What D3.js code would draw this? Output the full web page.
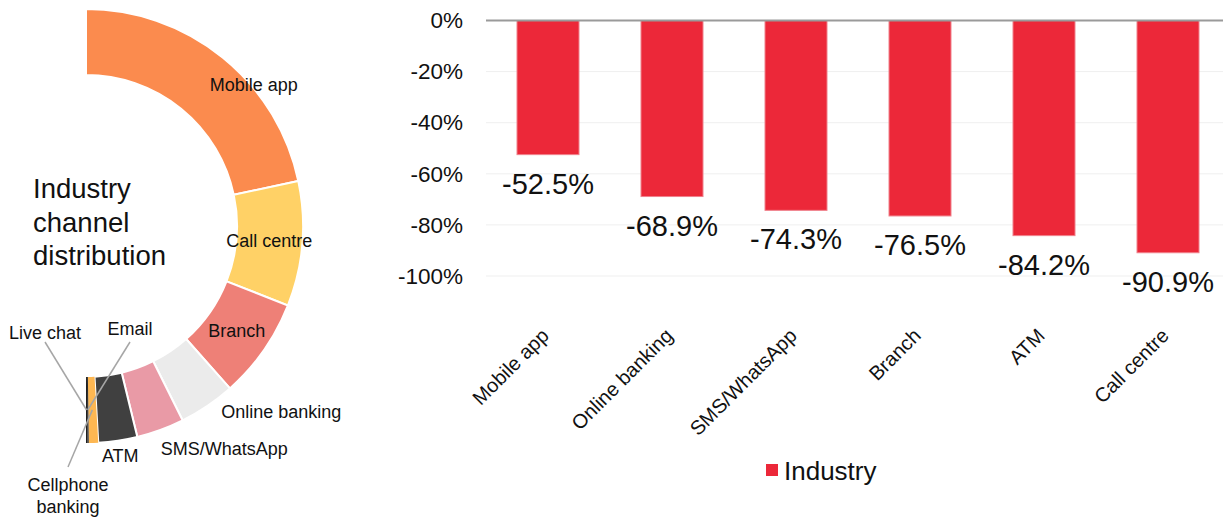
<!DOCTYPE html>
<html>
<head>
<meta charset="utf-8">
<script src="https://cdn.jsdelivr.net/npm/d3@7"></script>
<style>
  body { margin: 0; background: #fff; }
  svg { display: block; font-family: "Liberation Sans", Arial, sans-serif; }
</style>
</head>
<body>
<svg id="chart" width="1223" height="519"></svg>
<script>
// donut data (share of channel use, %)
var channels = ["Mobile app", "Call centre", "Branch", "Online banking", "SMS/WhatsApp", "ATM", "Cellphone banking", "Email", "Live chat"];
var shares = [43.4, 18.6, 15.0, 8.4, 7.1, 5.8, 1.4, 0.2, 0.2];
var sliceColors = ["#FB8B4E", "#FFD166", "#EE8077", "#EBEBEB", "#E99AA6", "#404040", "#FDB752", "#2b2b2b", "#1f1f1f"];

// bar data (change, %)
var categories = ["Mobile app", "Online banking", "SMS/WhatsApp", "Branch", "ATM", "Call centre"];
var change = [-52.5, -68.9, -74.3, -76.5, -84.2, -90.9];
var yTicks = [0, -20, -40, -60, -80, -100];
var seriesName = "Industry";

var svg = d3.select("#chart");

// ---------- half donut ----------
var cx = 86, cy = 226, rIn = 151, rOut = 217;

var pie = d3.pie().sort(null).startAngle(0).endAngle(Math.PI);
var arc = d3.arc().innerRadius(rIn).outerRadius(rOut);
var slices = pie(shares);

var donut = svg.append("g").attr("transform", "translate(" + cx + "," + cy + ")");

donut.selectAll(".slice")
    .data(slices)
  .enter().append("path")
    .attr("class", "slice")
    .attr("d", arc)
    .attr("fill", function(d, i) { return sliceColors[i]; })
    .attr("stroke", "#fff")
    .attr("stroke-width", function(d) { return d.data > 2 ? 2 : 0; });

function polar(a, r) { return [r * Math.sin(a), -r * Math.cos(a)]; }

// label placement: radius + angle shift (deg) for the big slices
var labelStyle = {
  "Mobile app":     { r: 219, da: 11,  anchor: "middle" },
  "Call centre":    { r: 184, da: 0,   anchor: "middle" },
  "Branch":         { r: 184, da: 0,   anchor: "middle" },
  "Online banking": { r: 230, da: -2,  anchor: "start" },
  "SMS/WhatsApp":   { r: 235, da: 1.5, anchor: "start" },
  "ATM":            { r: 233, da: 0,   anchor: "middle" }
};
// tiny slices get callouts
var callouts = {
  "Cellphone banking": { x: -18, y: 259, lx: -18, ly: 241, lines: ["Cellphone", "banking"] },
  "Email":             { x: 44,  y: 103, lx: 44,  ly: 116, lines: ["Email"] },
  "Live chat":         { x: -41, y: 107, lx: -41, ly: 116, lines: ["Live chat"] }
};

slices.forEach(function(d, i) {
  var name = channels[i];
  var mid = (d.startAngle + d.endAngle) / 2;
  if (labelStyle[name]) {
    var s = labelStyle[name];
    var p = polar(mid + s.da * Math.PI / 180, s.r);
    donut.append("text")
        .attr("x", p[0]).attr("y", p[1])
        .attr("text-anchor", s.anchor)
        .attr("dominant-baseline", "central")
        .attr("font-size", 18)
        .attr("fill", "#111")
        .text(name);
  } else {
    var c = callouts[name];
    var end = polar(mid, (rIn + rOut) / 2);
    donut.append("line")
        .attr("x1", c.lx).attr("y1", c.ly)
        .attr("x2", end[0]).attr("y2", end[1])
        .attr("stroke", "#a6a6a6")
        .attr("stroke-width", 1.5);
    var t = donut.append("text")
        .attr("x", c.x).attr("y", c.y)
        .attr("text-anchor", "middle")
        .attr("dominant-baseline", "central")
        .attr("font-size", 18)
        .attr("fill", "#111");
    c.lines.forEach(function(l, k) {
      t.append("tspan").attr("x", c.x).attr("dy", k == 0 ? 0 : 22).text(l);
    });
  }
});

// title
var title = svg.append("text")
    .attr("x", 33).attr("y", 198)
    .attr("font-size", 27.5)
    .attr("fill", "#111");
["Industry", "channel", "distribution"].forEach(function(l, k) {
  title.append("tspan").attr("x", 33).attr("dy", k == 0 ? 0 : 33.5).text(l);
});

// ---------- bar chart ----------
var x = d3.scaleBand()
    .domain(categories)
    .range([486, 1230])
    .paddingInner(0.5)
    .paddingOuter(0.25);

var y = d3.scaleLinear()
    .domain([-100, 0])
    .range([276, 20.5]);

var plot = svg.append("g");

// gridlines
plot.selectAll(".grid")
    .data(yTicks.filter(function(t) { return t != 0; }))
  .enter().append("line")
    .attr("class", "grid")
    .attr("x1", 486).attr("x2", 1223)
    .attr("y1", function(d) { return y(d); })
    .attr("y2", function(d) { return y(d); })
    .attr("stroke", "#efefef")
    .attr("stroke-width", 1);

// y axis labels
var yAxis = plot.append("g")
    .attr("transform", "translate(486,0)")
    .call(d3.axisLeft(y).tickValues(yTicks).tickSize(0).tickPadding(23)
      .tickFormat(function(d) { return d + "%"; }));
yAxis.select(".domain").remove();
yAxis.selectAll("text")
    .attr("font-family", "Liberation Sans, Arial, sans-serif")
    .attr("font-size", 22.5)
    .attr("fill", "#111");

// bars
plot.selectAll(".bar")
    .data(change)
  .enter().append("rect")
    .attr("class", "bar")
    .attr("x", function(d, i) { return x(categories[i]); })
    .attr("y", y(0))
    .attr("width", x.bandwidth())
    .attr("height", function(d) { return y(d) - y(0); })
    .attr("fill", "#EC2839")
    .attr("stroke", "#F0818C")
    .attr("stroke-width", 1);

// zero line
plot.append("line")
    .attr("x1", 486).attr("x2", 1223)
    .attr("y1", y(0)).attr("y2", y(0))
    .attr("stroke", "#9a9a9a")
    .attr("stroke-width", 2);

// data labels
plot.selectAll(".barText")
    .data(change)
  .enter().append("text")
    .attr("class", "barText")
    .attr("x", function(d, i) { return x(categories[i]) + x.bandwidth() / 2; })
    .attr("y", function(d) { return y(d) + 39; })
    .attr("text-anchor", "middle")
    .attr("font-size", 29)
    .attr("fill", "#111")
    .text(function(d) { return d.toFixed(1) + "%"; });

// category labels
plot.selectAll(".catText")
    .data(categories)
  .enter().append("text")
    .attr("class", "catText")
    .attr("transform", function(d) {
      return "translate(" + (x(d) + x.bandwidth() / 2 + 2) + ",337) rotate(-45)";
    })
    .attr("text-anchor", "end")
    .attr("font-size", 20)
    .attr("fill", "#111")
    .text(function(d) { return d; });

// legend
svg.append("rect")
    .attr("x", 766).attr("y", 464)
    .attr("width", 12).attr("height", 12)
    .attr("fill", "#EC2839");
svg.append("text")
    .attr("x", 784).attr("y", 480)
    .attr("font-size", 26)
    .attr("fill", "#111")
    .text(seriesName);
</script>
</body>
</html>
